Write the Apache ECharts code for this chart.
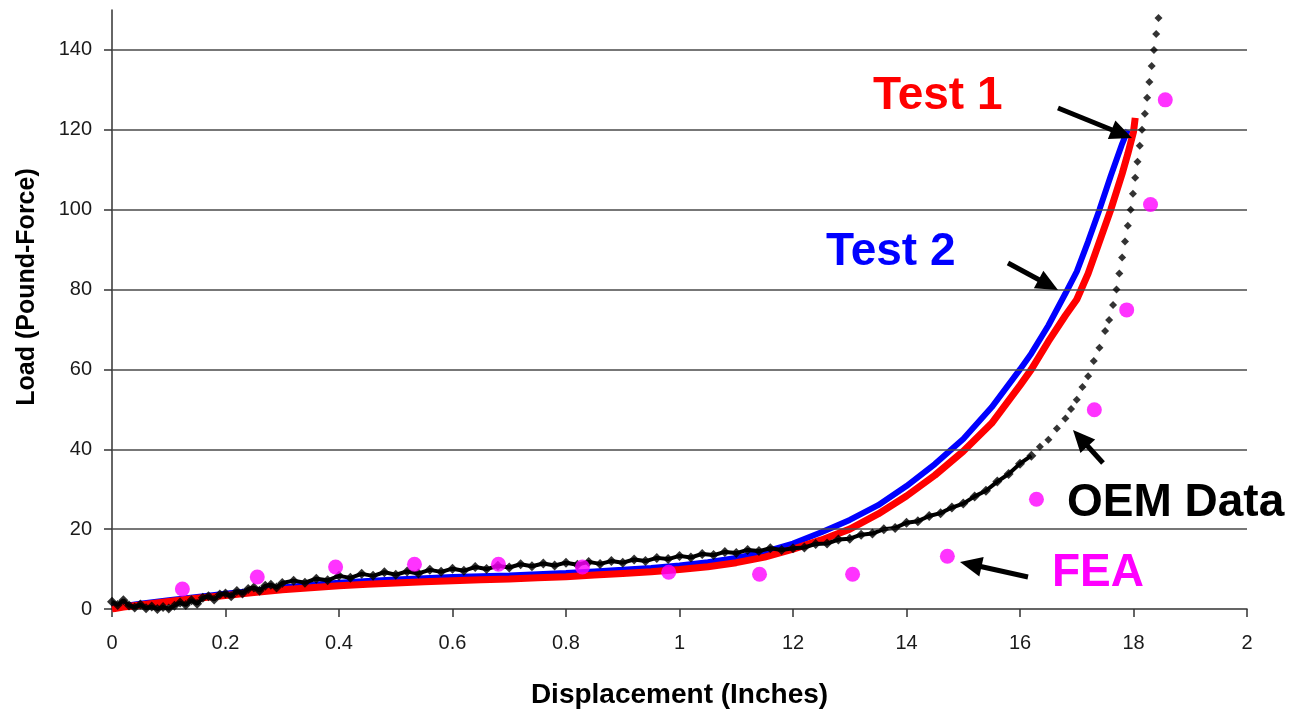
<!DOCTYPE html>
<html>
<head>
<meta charset="utf-8">
<script src="https://cdn.jsdelivr.net/npm/echarts@6/dist/echarts.min.js"></script>
<style>
html,body{margin:0;padding:0;background:#fff;}
#chart{width:1301px;height:714px;}
</style>
</head>
<body>
<div id="chart"></div>
<script>
// ---- data ----
const xTickLabels = ['0','0.2','0.4','0.6','0.8','1','12','14','16','18','2'];
const yTicks = [0,20,40,60,80,100,120,140];

const test1X = [0,0.02,0.05,0.1,0.15,0.2,0.25,0.3,0.35,0.4,0.45,0.5,0.55,0.6,0.65,0.7,0.75,0.8,0.85,0.9,0.95,1.0,1.05,1.1,1.15,1.2,1.25,1.3,1.35,1.4,1.45,1.5,1.55,1.6,1.62,1.65,1.68,1.7,1.72,1.74,1.76,1.78,1.79,1.8,1.803];
const test1Y = [0,0.5,1.0,1.9,2.7,3.4,4.1,4.8,5.3,5.8,6.2,6.5,6.8,7.1,7.3,7.5,7.8,8.1,8.5,8.9,9.3,9.9,10.6,11.6,13.0,15.0,17.3,20.0,23.8,28.3,33.5,39.5,46.5,56,60,67,73.5,77.5,84,92,100,109,114,119.5,123];

const test2X = [0,0.05,0.1,0.15,0.2,0.25,0.3,0.35,0.4,0.45,0.5,0.55,0.6,0.65,0.7,0.75,0.8,0.85,0.9,0.95,1.0,1.05,1.1,1.15,1.2,1.25,1.3,1.35,1.4,1.45,1.5,1.55,1.6,1.62,1.65,1.68,1.7,1.72,1.74,1.76,1.78,1.79];
const test2Y = [0.3,1.3,2.2,3.0,3.8,4.6,5.4,6.0,6.6,7.0,7.4,7.7,8.0,8.2,8.4,8.7,9.0,9.4,9.8,10.3,10.9,11.7,12.8,14.3,16.4,19.2,22.3,26.0,30.8,36.3,42.6,50.5,60,64,71,79,84.5,92,100,108.5,116.5,120];

const oemX = [0.00,0.01,0.02,0.03,0.04,0.05,0.06,0.07,0.08,0.09,0.10,0.11,0.12,0.13,0.14,0.15,0.16,0.17,0.18,0.19,0.20,0.21,0.22,0.23,0.24,0.25,0.26,0.27,0.28,0.29,0.30,0.32,0.34,0.36,0.38,0.40,0.42,0.44,0.46,0.48,0.50,0.52,0.54,0.56,0.58,0.60,0.62,0.64,0.66,0.68,0.70,0.72,0.74,0.76,0.78,0.80,0.82,0.84,0.86,0.88,0.90,0.92,0.94,0.96,0.98,1.00,1.02,1.04,1.06,1.08,1.10,1.12,1.14,1.16,1.18,1.20,1.22,1.24,1.26,1.28,1.30,1.32,1.34,1.36,1.38,1.40,1.42,1.44,1.46,1.48,1.50,1.52,1.54,1.56,1.58,1.60,1.62,1.635,1.65,1.665,1.68,1.69,1.70,1.71,1.72,1.73,1.74,1.75,1.757,1.764,1.770,1.775,1.780,1.785,1.790,1.795,1.799,1.803,1.807,1.811,1.815,1.820,1.824,1.828,1.832,1.836,1.840,1.844];
const oemY = [1.8,1.0,2.2,0.9,0.4,1.1,0.2,0.6,0.0,0.5,0.1,0.8,1.6,1.0,2.2,1.3,2.8,3.2,2.4,3.6,3.9,3.2,4.5,3.9,5.0,5.4,4.6,5.8,6.1,5.4,6.5,7.1,6.6,7.6,7.2,8.3,7.8,8.8,8.3,9.2,8.6,9.4,8.9,9.8,9.3,10.1,9.6,10.5,10.0,10.8,10.4,11.2,10.7,11.4,10.9,11.6,11.1,11.8,11.3,12.0,11.6,12.4,12.0,12.8,12.5,13.3,12.9,13.8,13.5,14.3,14.0,14.8,14.5,15.2,14.8,15.2,15.4,16.3,16.4,17.4,17.6,18.6,18.9,20.0,20.3,21.6,22.0,23.3,24.0,25.4,26.4,28.2,29.6,31.9,33.8,36.4,38.4,40.6,42.4,45.2,47.7,50.1,52.4,55.6,58.3,62.1,65.4,69.6,72.4,76.1,80,84,88,92,96,100,104,108,112,116,120,124,128,132,136,140,144,148];

const feaX = [0.124,0.256,0.394,0.533,0.681,0.829,0.981,1.141,1.305,1.472,1.629,1.731,1.788,1.830,1.856];
const feaY = [5.0,8.0,10.5,11.2,11.2,10.5,9.2,8.7,8.7,13.2,27.5,49.9,74.9,101.3,127.5];

// ---- build ----
const zip = (xs, ys) => xs.map((x, i) => [x, ys[i]]);
const FONT = '"Liberation Sans", Arial, sans-serif';
const chart = echarts.init(document.getElementById('chart'), null, {renderer: 'canvas'});

const oemAll = zip(oemX, oemY);
const oemDense = oemAll.filter(p => p[0] <= 1.62);

function arrow(x1, y1, x2, y2) {
  const dx = x2 - x1, dy = y2 - y1, L = Math.hypot(dx, dy);
  const ux = dx / L, uy = dy / L, hl = 22, hw = 10;
  const bx = x2 - ux * hl, by = y2 - uy * hl;
  return [
    {type: 'line', shape: {x1: x1, y1: y1, x2: bx + ux * 2, y2: by + uy * 2}, style: {stroke: '#000', lineWidth: 5}, z: 100},
    {type: 'polygon', shape: {points: [[x2, y2], [bx - uy * hw, by + ux * hw], [bx + uy * hw, by - ux * hw]]}, style: {fill: '#000'}, z: 100}
  ];
}

const texts = [
  {t: 'Test 1', x: 873, y: 96, c: '#ff0000'},
  {t: 'Test 2', x: 826, y: 252, c: '#0000ff'},
  {t: 'OEM Data', x: 1067, y: 503, c: '#000000'},
  {t: 'FEA', x: 1052, y: 573, c: '#ff00ff'}
].map(o => ({type: 'text', x: o.x, y: o.y, z: 100,
  style: {text: o.t, fill: o.c, font: 'bold 46px ' + FONT, align: 'left', verticalAlign: 'middle'}}));

const graphics = [].concat(
  texts,
  arrow(1058, 108, 1132, 138),
  arrow(1008, 263, 1058, 290),
  arrow(1103, 463, 1073, 430),
  arrow(1028, 577, 960, 562),
  [{type: 'text', x: 27, y: 287, rotation: Math.PI / 2, z: 100,
    style: {text: 'Load (Pound-Force)', fill: '#000', font: 'bold 25px ' + FONT, align: 'center', verticalAlign: 'middle'}}]
);

const option = {
  backgroundColor: '#ffffff',
  animation: false,
  grid: {left: 112, right: 54, top: 10, bottom: 102, containLabel: false},
  xAxis: {
    type: 'value', min: 0, max: 2, interval: 0.2,
    name: 'Displacement (Inches)', nameLocation: 'middle', nameGap: 72,
    nameTextStyle: {fontFamily: FONT, fontSize: 28, fontWeight: 'bold', color: '#000'},
    axisLine: {show: true, onZero: false, lineStyle: {color: '#333', width: 1.5}},
    axisTick: {show: true, inside: false, length: 8, lineStyle: {color: '#333', width: 1.5}},
    axisLabel: {margin: 24, fontFamily: FONT, fontSize: 20, color: '#1a1a1a',
      formatter: v => xTickLabels[Math.round(v / 0.2)] ?? ''},
    splitLine: {show: false}
  },
  yAxis: {
    type: 'value', min: 0, max: 150, interval: 20,
    axisLine: {show: true, onZero: false, lineStyle: {color: '#333', width: 1.5}},
    axisTick: {show: true, length: 8, customValues: yTicks, lineStyle: {color: '#333', width: 1.5}},
    axisLabel: {margin: 20, fontFamily: FONT, fontSize: 20, color: '#1a1a1a', customValues: yTicks},
    splitLine: {show: false}
  },
  graphic: graphics,
  series: [
    {
      name: 'Test 2', type: 'line', data: zip(test2X, test2Y),
      showSymbol: false, smooth: false, lineStyle: {color: '#0000ff', width: 6},
      markLine: {
        silent: true, symbol: 'none', label: {show: false},
        lineStyle: {color: '#4a4a4a', width: 1.5, type: 'solid'},
        data: yTicks.slice(1).map(v => ({yAxis: v}))
      },
      z: 2
    },
    {
      name: 'Test 1', type: 'line', data: zip(test1X, test1Y),
      showSymbol: false, smooth: false, lineStyle: {color: '#ff0000', width: 7}, z: 3
    },
    {
      name: 'OEM band', type: 'line', data: oemDense,
      showSymbol: false, lineStyle: {color: '#000', width: 4}, z: 4
    },
    {
      name: 'OEM Data', type: 'scatter', data: oemAll,
      symbol: 'diamond', symbolSize: p => (p[0] <= 1.62 ? 10 : 8), itemStyle: {color: '#000'}, z: 5
    },
    {
      name: 'FEA', type: 'scatter', data: zip(feaX, feaY),
      symbol: 'circle', symbolSize: 15, itemStyle: {color: '#ff00ff'}, z: 6
    }
  ]
};
chart.setOption(option);
</script>
</body>
</html>
